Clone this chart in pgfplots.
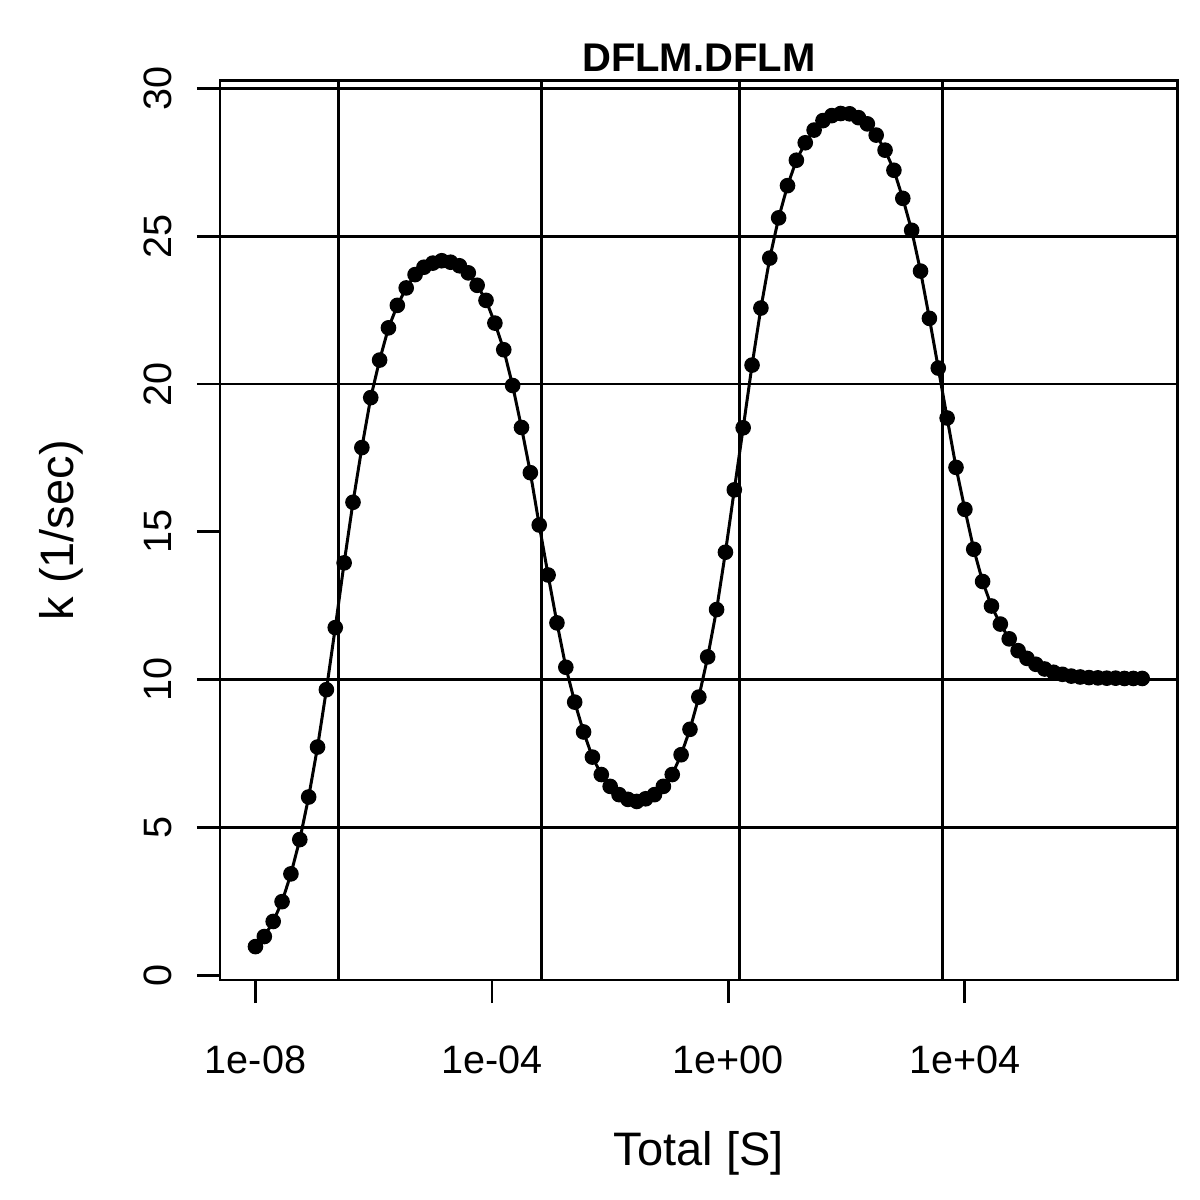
\documentclass[border=0pt]{standalone}
\usepackage{fontspec}
\setmainfont{Liberation Sans}
\usepackage{pgfplots}
\usepackage{pgfplotstable}
\pgfplotsset{compat=1.18}
\pgfplotstableread{
S k
1e-8 0.97
1.4125e-8 1.31
1.9953e-8 1.82
2.8184e-8 2.49
3.9811e-8 3.43
5.6234e-8 4.59
7.9433e-8 6.03
1.1220e-7 7.72
1.5849e-7 9.66
2.2387e-7 11.76
3.1623e-7 13.95
4.4668e-7 16.00
6.3096e-7 17.85
8.9125e-7 19.54
1.2589e-6 20.81
1.7783e-6 21.90
2.5119e-6 22.66
3.5481e-6 23.25
5.0119e-6 23.70
7.0795e-6 23.95
1e-5 24.09
1.4125e-5 24.17
1.9953e-5 24.12
2.8184e-5 24.00
3.9811e-5 23.76
5.6234e-5 23.34
7.9433e-5 22.83
1.1220e-4 22.06
1.5849e-4 21.16
2.2387e-4 19.95
3.1623e-4 18.53
4.4668e-4 17.00
6.3096e-4 15.23
8.9125e-4 13.54
1.2589e-3 11.92
1.7783e-3 10.42
2.5119e-3 9.24
3.5481e-3 8.23
5.0119e-3 7.38
7.0795e-3 6.79
1e-2 6.39
1.4125e-2 6.11
1.9953e-2 5.95
2.8184e-2 5.88
3.9811e-2 5.97
5.6234e-2 6.11
7.9433e-2 6.39
0.11220 6.79
0.15849 7.46
0.22387 8.32
0.31623 9.41
0.44668 10.77
0.63096 12.37
0.89125 14.31
1.2589 16.42
1.7783 18.52
2.5119 20.64
3.5481 22.57
5.0119 24.26
7.0795 25.62
10 26.71
14.125 27.57
19.953 28.16
28.184 28.59
39.811 28.91
56.234 29.08
79.433 29.15
112.20 29.14
158.49 29.01
223.87 28.80
316.23 28.42
446.68 27.91
630.96 27.23
891.25 26.28
1258.9 25.20
1778.3 23.82
2511.9 22.22
3548.1 20.54
5011.9 18.85
7079.5 17.18
10000 15.76
14125 14.41
19953 13.32
28184 12.49
39811 11.88
56234 11.38
79433 10.98
1.1220e5 10.72
1.5849e5 10.52
2.2387e5 10.36
3.1623e5 10.25
4.4668e5 10.18
6.3096e5 10.12
8.9125e5 10.09
1.2589e6 10.07
1.7783e6 10.06
2.5119e6 10.05
3.5481e6 10.05
5.0119e6 10.04
7.0795e6 10.04
1e7 10.04
}\kdata
\begin{document}
\begin{tikzpicture}
\path[use as bounding box] (-110pt,-110pt) rectangle (490pt,490pt);
\begin{axis}[
  at={(0,0)}, anchor=south west,
  scale only axis, width=478.85pt, height=449.65pt,
  xmode=log, xmin=2.512e-9, xmax=3.981e7,
  ymin=-0.16, ymax=30.26,
  xtick={1e-8,1e-4,1,1e4},
  xticklabels={1e-08,1e-04,1e+00,1e+04},
  ytick={0,5,10,15,20,25,30},
  minor xtick={}, minor ytick={},
  tick align=outside, major tick length=11.6pt,
  xtick pos=bottom, ytick pos=left,
  tick style={line width=1.4pt, black},
  axis line style={line width=1.4pt},
  /pgf/number format/assume math mode=true,
  ticklabel style={font=\fontsize{19.8}{23}\selectfont},
  xticklabel style={anchor=base, yshift=-35.05pt},
  yticklabel style={rotate=90, anchor=base, yshift=12.55pt},
  every axis x label/.style={at={([yshift=-92.5pt]axis description cs:0.5,0)}, anchor=base, font=\fontsize{23.5}{27}\selectfont},
  every axis y label/.style={at={([xshift=-73.3pt]axis description cs:0,0.5)}, rotate=90, anchor=base, font=\fontsize{23.5}{27}\selectfont},
  every axis title/.style={at={([yshift=4.5pt]axis description cs:0.5,1)}, anchor=base, font=\bfseries\fontsize{20}{24}\selectfont},
  xlabel={Total [S]},
  ylabel={k (1/sec)},
  title={DFLM.DFLM},
]
\draw[line width=1.4pt] (axis cs:2.512e-7,-0.16) -- (axis cs:2.512e-7,30.26);
\draw[line width=1.4pt] (axis cs:6.92e-4,-0.16) -- (axis cs:6.92e-4,30.26);
\draw[line width=1.4pt] (axis cs:1.55,-0.16) -- (axis cs:1.55,30.26);
\draw[line width=1.4pt] (axis cs:4140,-0.16) -- (axis cs:4140,30.26);
\draw[line width=1.4pt] (axis cs:2.512e-9,5) -- (axis cs:3.981e7,5);
\draw[line width=1.4pt] (axis cs:2.512e-9,10) -- (axis cs:3.981e7,10);
\draw[line width=1.4pt] (axis cs:2.512e-9,20) -- (axis cs:3.981e7,20);
\draw[line width=1.4pt] (axis cs:2.512e-9,25) -- (axis cs:3.981e7,25);
\draw[line width=1.4pt] (axis cs:2.512e-9,30) -- (axis cs:3.981e7,30);
\addplot[black, line width=1.5pt, mark=*, mark size=3.6pt, mark options={fill=black, draw=black, line width=0.6pt}] table[x=S, y=k] {\kdata};
\end{axis}
\end{tikzpicture}
\end{document}
